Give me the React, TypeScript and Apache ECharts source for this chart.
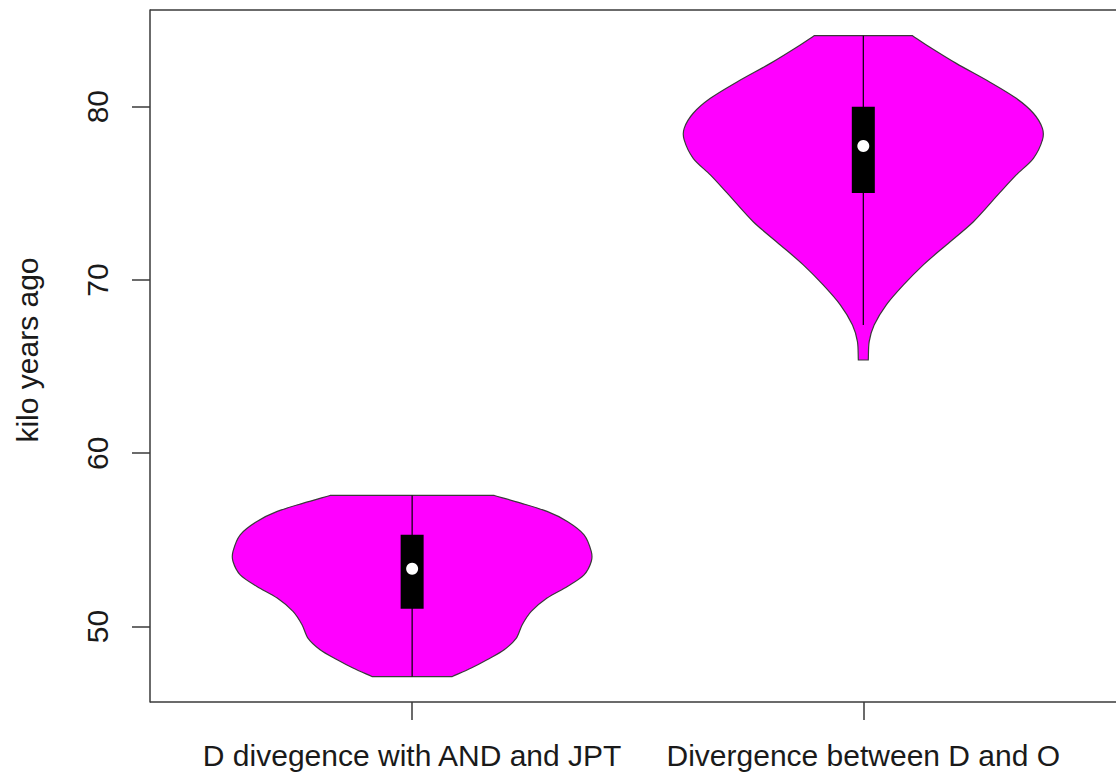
import React, { useEffect, useRef } from "react";
import * as echarts from "echarts";

// Group names on the x axis
const categories = ["D divegence with AND and JPT", "Divergence between D and O"];

// Violin outlines: levels (kilo years ago) from top to bottom, and half-widths in x units
const levelsAndJpt = [57.56, 57.12, 56.64, 56.06, 55.29, 54.33, 53.75, 52.98, 52.31, 51.64, 50.87, 50.10, 49.33, 48.66, 48.08, 47.60, 47.11];
const widthsAndJpt = [0.182, 0.241, 0.299, 0.344, 0.381, 0.397, 0.397, 0.381, 0.344, 0.299, 0.264, 0.244, 0.231, 0.204, 0.166, 0.131, 0.089];

const levelsDO = [84.10, 83.46, 82.50, 81.44, 80.48, 79.62, 78.75, 78.08, 77.02, 76.06, 75.02, 73.36, 72.02, 70.87, 69.71, 68.56, 67.40, 66.44, 65.38];
const widthsDO = [0.109, 0.146, 0.206, 0.279, 0.339, 0.377, 0.397, 0.397, 0.377, 0.339, 0.302, 0.244, 0.184, 0.133, 0.089, 0.051, 0.024, 0.013, 0.011];

// Box statistics per group
const whiskerLow = [47.11, 67.40];
const q1 = [51.02, 75.02];
const median = [53.33, 77.73];
const q3 = [55.29, 80.0];
const whiskerHigh = [57.56, 84.10];

// Y axis tick values
const yTicks = [50, 60, 70, 80];

const violinLevels = [levelsAndJpt, levelsDO];
const violinWidths = [widthsAndJpt, widthsDO];

const FONT = "'Liberation Sans', Arial, Helvetica, sans-serif";
const AXIS_COLOR = "#3a3a3a";
const BOX_HALF = 0.0255;

export default function App() {
  const ref = useRef<HTMLDivElement>(null);

  useEffect(() => {
    if (!ref.current) return;
    const chart = echarts.init(ref.current, null, { renderer: "svg" });

    const renderItem = (params: any, api: any) => {
      const i = params.dataIndex;
      const c = api.value(0);
      const levels = violinLevels[i];
      const widths = violinWidths[i];
      const leftSide = levels.map((v: number, k: number) => api.coord([c - widths[k], v]));
      const rightSide = levels.map((v: number, k: number) => api.coord([c + widths[k], v])).reverse();
      // corners are repeated so the smoothed outline keeps the flat ends sharp
      const n = leftSide.length;
      const points = [
        leftSide[0],
        ...leftSide,
        leftSide[n - 1],
        rightSide[0],
        ...rightSide,
        rightSide[n - 1],
      ];

      const top = api.coord([c, whiskerHigh[i]]);
      const bottom = api.coord([c, whiskerLow[i]]);
      const boxTL = api.coord([c - BOX_HALF, q3[i]]);
      const boxBR = api.coord([c + BOX_HALF, q1[i]]);
      const med = api.coord([c, median[i]]);

      const children: any[] = [
        {
          type: "polygon",
          shape: { points, smooth: 0.3 },
          style: { fill: "#ff00ff", stroke: "#3a3a3a", lineWidth: 1.2 },
        },
        {
          type: "line",
          shape: { x1: top[0], y1: top[1], x2: bottom[0], y2: bottom[1] },
          style: { stroke: "#000", lineWidth: 1.2 },
        },
        {
          type: "rect",
          shape: {
            x: boxTL[0],
            y: boxTL[1],
            width: boxBR[0] - boxTL[0],
            height: boxBR[1] - boxTL[1],
          },
          style: { fill: "#000" },
        },
        {
          type: "circle",
          shape: { cx: med[0], cy: med[1], r: 6 },
          style: { fill: "#fff" },
        },
      ];

      if (i === 0) {
        // top and bottom edges of the frame, running on past the plot's right side
        const cs = params.coordSys;
        const xEnd = api.getWidth() - 2;
        const yTop = Math.round(cs.y);
        const yBottom = Math.round(cs.y + cs.height);
        children.push(
          {
            type: "line",
            shape: { x1: cs.x, y1: yTop, x2: xEnd, y2: yTop },
            style: { stroke: AXIS_COLOR, lineWidth: 1.5 },
          },
          {
            type: "line",
            shape: { x1: cs.x, y1: yBottom, x2: xEnd, y2: yBottom },
            style: { stroke: AXIS_COLOR, lineWidth: 1.5 },
          }
        );
      }

      return { type: "group", children };
    };

    chart.setOption({
      animation: false,
      backgroundColor: "#fff",
      textStyle: { fontFamily: FONT },
      grid: {
        left: 150,
        top: 10,
        right: 30,
        height: 692,
      },
      xAxis: {
        type: "value",
        min: 0.419,
        max: 2.498,
        splitLine: { show: false },
        axisLine: { show: false },
        axisTick: { show: true, customValues: [1, 2], length: 18, lineStyle: { color: AXIS_COLOR, width: 1.5 } },
        axisLabel: {
          customValues: [1, 2],
          formatter: (v: number) => categories[Math.round(v) - 1] ?? "",
          fontSize: 30,
          fontFamily: FONT,
          color: "#1a1a1a",
          margin: 38,
        },
      },
      yAxis: {
        type: "value",
        min: 45.64,
        max: 85.58,
        name: "kilo years ago",
        nameLocation: "middle",
        nameRotate: 90,
        nameGap: 108,
        nameTextStyle: { fontSize: 30, fontFamily: FONT, color: "#1a1a1a", padding: [0, 0, 0, 12] },
        splitLine: { show: false },
        axisLine: { show: true, lineStyle: { color: AXIS_COLOR, width: 1.5 } },
        axisTick: { show: true, customValues: yTicks, length: 18, lineStyle: { color: AXIS_COLOR, width: 1.5 } },
        axisLabel: {
          customValues: yTicks,
          rotate: 90,
          fontSize: 30,
          fontFamily: FONT,
          color: "#1a1a1a",
          margin: 38,
        },
      },
      series: [
        {
          type: "custom",
          renderItem,
          data: [[1], [2]],
          clip: false,
        },
      ],
    });

    return () => chart.dispose();
  }, []);

  return (
    <div
      ref={ref}
      style={{ position: "absolute", left: 0, top: 0, width: 1118, height: 778, overflow: "hidden" }}
    />
  );
}
